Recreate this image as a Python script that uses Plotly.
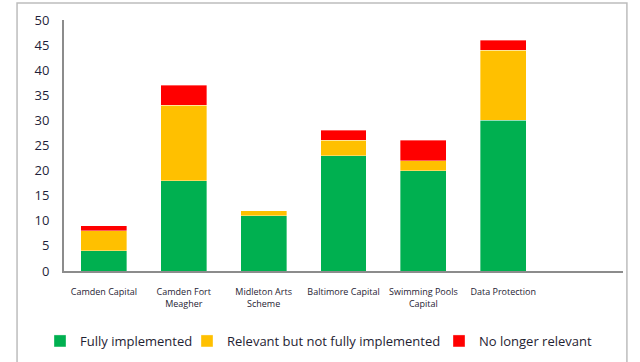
import plotly.graph_objects as go

categories = ["Camden Capital", "Camden Fort<br>Meagher", "Midleton Arts<br>Scheme",
              "Baltimore Capital", "Swimming Pools<br>Capital", "Data Protection"]
fully = [4, 18, 11, 23, 20, 30]
relevant = [4, 15, 1, 3, 2, 14]
no_longer = [1, 4, 0, 2, 4, 2]
yticks = [0, 5, 10, 15, 20, 25, 30, 35, 40, 45, 50]

series = [("Fully implemented", fully, "#00B050", "legend"),
          ("Relevant but not fully implemented", relevant, "#FFC000", "legend2"),
          ("No longer relevant", no_longer, "#FF0000", "legend3")]

fig = go.Figure()
for name, vals, col, lg in series:
    fig.add_trace(go.Bar(x=list(range(len(categories))), y=vals, name=name, legend=lg,
                         marker=dict(color=col, line=dict(width=0.6, color="rgba(255,255,255,0.6)")),
                         width=0.575))

def leg(xpx):
    return dict(orientation="h", x=xpx / 640, xanchor="left", xref="container",
                y=(362 - 341) / 362, yanchor="middle", yref="container",
                font=dict(size=13, color="#1f2333"), itemwidth=30,
                bgcolor="rgba(0,0,0,0)")

fig.update_layout(
    barmode="stack",
    width=640, height=362,
    margin=dict(l=64, r=17, t=20, b=91),
    paper_bgcolor="white", plot_bgcolor="white",
    font=dict(family="Open Sans, Liberation Sans, sans-serif"),
    showlegend=True,
    legend=leg(40), legend2=leg(187), legend3=leg(439),
    xaxis=dict(range=[-0.5, 6.5], tickmode="array", tickvals=list(range(len(categories))),
               ticktext=categories, tickfont=dict(size=9, color="#1f2333"),
               showline=True, linecolor="#8c8c8c", linewidth=2, showgrid=False,
               ticks="", zeroline=False, ticklabelstandoff=11, automargin=False),
    yaxis=dict(range=[0, 50], tickmode="array", tickvals=yticks, ticks="",
               tickfont=dict(size=13, color="#1f1f3a"), showgrid=False,
               showline=True, linecolor="#8c8c8c", linewidth=2, zeroline=False,
               ticklabelstandoff=10, automargin=False),
    shapes=[dict(type="rect", xref="paper", yref="paper", x0=-0.084, x1=1.007,
                 y0=-0.6, y1=1.068, line=dict(color="#bdbdbd", width=1.5),
                 fillcolor="rgba(0,0,0,0)", layer="below")],
)

fig.write_html("out.html")
